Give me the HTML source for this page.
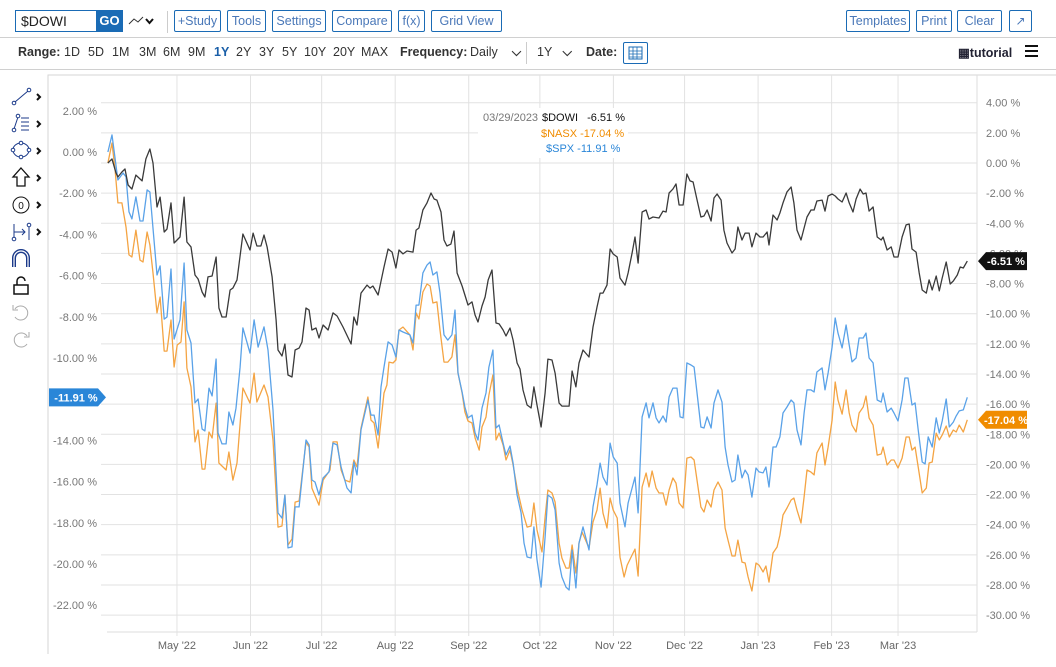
<!DOCTYPE html>
<html><head><meta charset="utf-8">
<style>
*{box-sizing:border-box}
body{margin:0;width:1056px;height:667px;background:#fff;font-family:"Liberation Sans",sans-serif;position:relative;overflow:hidden;color:#222}
.abs{position:absolute}
.btn{position:absolute;top:10px;height:22px;border:1px solid #1a6bb5;border-radius:2px;color:#4a78b8;font-size:12.5px;line-height:20px;text-align:center;background:#fff}
.rng{position:absolute;top:45px;font-size:12.5px;color:#333}
</style></head><body>
<div class="abs" style="left:15px;top:10px;width:82px;height:22px;border:1px solid #1a6bb5;font-size:14px;line-height:20px;padding-left:5px">$DOWI</div>
<div class="abs" style="left:96px;top:10px;width:27px;height:22px;background:#1a6bb5;color:#fff;font-weight:bold;font-size:13px;line-height:22px;text-align:center">GO</div>
<svg class="abs" style="left:128px;top:14px" width="28" height="14"><path d="M1 10 L6 5 L10 8 L15 3" stroke="#333" fill="none" stroke-width="1"/><path d="M18 5 L21.5 9 L25 5" stroke="#111" fill="none" stroke-width="2"/></svg>
<div class="abs" style="left:167px;top:11px;width:1px;height:22px;background:#ccc"></div>
<div class="btn" style="left:174px;width:47px">+Study</div>
<div class="btn" style="left:227px;width:39px">Tools</div>
<div class="btn" style="left:272px;width:54px">Settings</div>
<div class="btn" style="left:332px;width:60px">Compare</div>
<div class="btn" style="left:398px;width:27px">f(x)</div>
<div class="btn" style="left:431px;width:71px">Grid View</div>
<div class="btn" style="left:846px;width:64px">Templates</div>
<div class="btn" style="left:916px;width:36px">Print</div>
<div class="btn" style="left:957px;width:45px">Clear</div>
<div class="btn" style="left:1009px;width:23px;font-size:12px">&#x2197;</div>
<div class="abs" style="left:0;top:37px;width:1056px;height:1px;background:#d0d0d0"></div>
<div class="rng" style="left:18px;font-weight:bold">Range:</div>
<div class="rng" style="left:64px">1D</div>
<div class="rng" style="left:88px">5D</div>
<div class="rng" style="left:112px">1M</div>
<div class="rng" style="left:139px">3M</div>
<div class="rng" style="left:163px">6M</div>
<div class="rng" style="left:188px">9M</div>
<div class="rng" style="left:214px;font-weight:bold;color:#1a5fa8">1Y</div>
<div class="rng" style="left:236px">2Y</div>
<div class="rng" style="left:259px">3Y</div>
<div class="rng" style="left:282px">5Y</div>
<div class="rng" style="left:304px">10Y</div>
<div class="rng" style="left:333px">20Y</div>
<div class="rng" style="left:361px">MAX</div>
<div class="rng" style="left:400px;font-weight:bold">Frequency:</div>
<div class="rng" style="left:470px">Daily &nbsp;&nbsp;&nbsp;<b>&#x2335;</b></div>
<div class="abs" style="left:526px;top:42px;width:1px;height:22px;background:#ccc"></div>
<div class="rng" style="left:537px">1Y &nbsp;&nbsp;<b>&#x2335;</b></div>
<div class="rng" style="left:586px;font-weight:bold">Date:</div>
<div class="abs" style="left:623px;top:42px;width:25px;height:22px;border:1px solid #1a6bb5;border-radius:2px">
<svg width="23" height="20"><rect x="5" y="4" width="13" height="12" fill="none" stroke="#1a6bb5"/><path d="M5 8H18M5 11H18M5 14H18M9 4V16M13 4V16" stroke="#1a6bb5" stroke-width="0.8"/></svg></div>
<div class="rng" style="left:958px;font-weight:bold;color:#223">&#x25A6;tutorial</div>
<div class="abs" style="left:1025px;top:45px;width:13px;height:12px;border-top:2px solid #111;border-bottom:2px solid #111"><div style="margin-top:3px;height:2px;background:#111"></div></div>
<div class="abs" style="left:0;top:69px;width:1056px;height:1px;background:#d0d0d0"></div>

<svg class="abs" style="left:8px;top:85px" width="40" height="270">
<g stroke="#1b3a8a" fill="none"><path d="M7 17 L20 6"/><circle cx="6" cy="18" r="1.8" fill="#fff"/><circle cx="21" cy="5" r="1.8" fill="#fff"/><path d="M29 9l3 3-3 3" stroke="#111" stroke-width="2"/></g>
<g stroke="#1b3a8a" fill="none" transform="translate(0,27)"><path d="M6 17 L10 5 M13 6H21M13 10H21M13 14H21M13 18H21"/><circle cx="6" cy="18" r="1.8" fill="#fff"/><circle cx="10" cy="4" r="1.8" fill="#fff"/><path d="M29 9l3 3-3 3" stroke="#111" stroke-width="2"/></g>
<g stroke="#1b3a8a" fill="none" transform="translate(0,54)"><ellipse cx="13" cy="11" rx="8" ry="7"/><circle cx="13" cy="4" r="1.8" fill="#fff"/><circle cx="5" cy="11" r="1.8" fill="#fff"/><circle cx="21" cy="11" r="1.8" fill="#fff"/><circle cx="13" cy="18" r="1.8" fill="#fff"/><path d="M29 9l3 3-3 3" stroke="#111" stroke-width="2"/></g>
<g stroke="#111" fill="none" transform="translate(0,81)"><path d="M13 2 L21 11 H17 V20 H9 V11 H5 Z" stroke-width="1.3"/><path d="M29 9l3 3-3 3" stroke-width="2"/></g>
<g stroke="#111" fill="none" transform="translate(0,108)"><circle cx="13" cy="12" r="8"/><text x="13" y="16" font-size="10" text-anchor="middle" fill="#111" stroke="none" font-family="Liberation Sans">0</text><path d="M29 9l3 3-3 3" stroke-width="2"/></g>
<g stroke="#1b3a8a" fill="none" transform="translate(0,135)"><path d="M6 4V20M6 12H17M14 9l3 3-3 3M21 5V20"/><circle cx="21" cy="5" r="1.8" fill="#fff"/><circle cx="6" cy="19" r="1.8" fill="#fff"/><path d="M29 9l3 3-3 3" stroke="#111" stroke-width="2"/></g>
<g fill="none" transform="translate(0,162)"><path d="M6 20V11a7 7 0 0 1 14 0V20" stroke="#1b3a8a" stroke-width="4"/><path d="M6 20V11a7 7 0 0 1 14 0V20" stroke="#fff" stroke-width="1.2"/></g>
<g stroke="#111" fill="none" transform="translate(0,189)"><rect x="6" y="11" width="14" height="9" stroke-width="1.5"/><path d="M9 11V7a4 4 0 0 1 8 0" stroke-width="1.5"/></g>
<g stroke="#aaa" fill="none" transform="translate(0,216)"><path d="M7 8a7 7 0 1 1 0 8"/><path d="M5 4V9H10"/></g>
<g stroke="#aaa" fill="none" transform="translate(0,243)"><path d="M19 8a7 7 0 1 0 0 8"/><path d="M21 4V9H16"/></g>
</svg>

<svg id="chart" class="abs" style="left:0;top:0" width="1056" height="667" font-family="Liberation Sans, sans-serif"></svg>

<script>
const monthLabels=["May '22","Jun '22","Jul '22","Aug '22","Sep '22","Oct '22","Nov '22","Dec '22","Jan '23","Feb '23","Mar '23"];
const monthDays=[30,61,91,122,153,183,214,244,275,306,334];
const leftTicks=[2,0,-2,-4,-6,-8,-10,-12,-14,-16,-18,-20,-22];
const rightTicks=[4,2,0,-2,-4,-6,-8,-10,-12,-14,-16,-18,-20,-22,-24,-26,-28,-30];
const seriesNames=["$DOWI","$NASX","$SPX"];
const lastValues=[-6.51,-17.04,-11.91];
const dowi=[[0.9,0],[2.6,0.27],[4.3,-0.66],[5.1,-0.93],[6.8,-0.6],[8.1,-0.4],[9.4,-1.46],[11,-1.73],[12.7,-0.8],[15.3,-1.19],[16.9,0.27],[18.6,0.93],[19.9,0],[21.6,-2.92],[22.9,-2.26],[24.6,-4.58],[25.8,-4.38],[27.5,-2.65],[28.8,-5.31],[31.3,-4.91],[33,-2.26],[34.2,-5.24],[35.9,-5.57],[37.6,-7.43],[38.9,-7.7],[40.6,-8.56],[41.8,-8.89],[43.1,-7.56],[44.8,-7.5],[46.5,-6.24],[47.7,-9.62],[49,-10.22],[50.7,-10.22],[52.4,-8.43],[53.6,-8.3],[55.3,-7.76],[57.8,-4.71],[60.8,-5.77],[62.1,-4.65],[63.7,-5.51],[65.4,-5.51],[66.7,-4.78],[68,-5.57],[70.1,-7.56],[71.8,-10.42],[72.6,-12.41],[74.3,-12.81],[75.5,-12.01],[76.8,-14.07],[78.5,-14.2],[79.8,-12.41],[81.5,-12.28],[82.7,-11.88],[84.4,-9.62],[85.7,-9.76],[86.9,-11.08],[88.6,-10.95],[89.9,-11.61],[91.6,-10.75],[93.7,-11.08],[95.8,-9.95],[97.5,-10.15],[100,-10.88],[103.4,-12.01],[104.6,-10.22],[105.9,-10.75],[107.6,-8.63],[110.1,-8.1],[111.4,-8.3],[112.6,-8.16],[114.8,-8.76],[117.3,-6.9],[119,-5.71],[120.7,-5.91],[122.3,-6.97],[123.6,-5.77],[125.3,-6.03],[127,-5.84],[129.5,-5.91],[130.8,-4.45],[132,-4.31],[133.7,-3.12],[135.4,-2.65],[137.1,-1.99],[138.4,-2.39],[139.6,-2.46],[141.3,-3.25],[142.6,-5.11],[143.8,-5.51],[145.5,-5.38],[146.8,-4.51],[148.1,-7.3],[150.2,-8.16],[151.4,-8.76],[152.7,-9.42],[154.4,-9.22],[155.7,-10.09],[156.9,-10.55],[158.6,-9.49],[159.9,-8.89],[161.2,-7.76],[162.8,-7.1],[164.5,-10.62],[165.8,-10.68],[167.5,-11.08],[168.7,-11.48],[170.4,-10.95],[171.7,-11.75],[173.4,-13.27],[174.6,-13.67],[175.9,-15.06],[177.6,-16.06],[179.3,-16.26],[180.5,-14.86],[181.8,-16.06],[183.5,-17.52],[185.2,-15.26],[186.4,-13.01],[188.1,-13.07],[189.4,-13.94],[191.1,-15.93],[192.3,-16.13],[195.3,-16.13],[196.6,-13.8],[198.2,-14.86],[199.5,-13.27],[201.2,-12.41],[203.7,-12.87],[205.4,-10.88],[207.1,-9.56],[208.4,-8.63],[209.6,-8.63],[211.3,-8.1],[212.6,-5.71],[213.9,-6.04],[215.6,-6.24],[216.8,-7.63],[218.9,-8.1],[220.2,-7.3],[221.9,-5.97],[223.1,-4.91],[224.4,-6.64],[226.1,-3.25],[227.8,-3.12],[229,-3.72],[230.7,-3.58],[233.2,-3.65],[234.9,-3.19],[236.2,-3.25],[237.5,-1.99],[239.1,-1.73],[240.4,-1.39],[241.7,-2.79],[243.4,-2.79],[245,-0.73],[246.3,-1.19],[247.6,-1.26],[249.3,-2.46],[250.9,-3.58],[252.2,-3.52],[253.5,-3.12],[255.2,-3.85],[256.4,-2.32],[257.7,-2.06],[259.4,-2.46],[260.6,-4.45],[261.9,-5.31],[264,-5.97],[265.3,-5.71],[266.5,-4.25],[268.2,-5.11],[269.5,-4.65],[271.2,-4.65],[272.4,-5.57],[274.1,-4.65],[275.8,-4.91],[277.1,-4.91],[278.8,-4.58],[279.6,-5.44],[281.3,-3.45],[283,-3.78],[284.2,-3.32],[285.5,-2.65],[287.2,-1.92],[288.9,-1.59],[290.1,-2.65],[291.4,-4.45],[293.1,-5.11],[294.4,-4.31],[295.6,-3.58],[297.3,-3.12],[298.6,-3.12],[299.8,-2.52],[302,-2.46],[303.2,-3.19],[304.5,-2.19],[306.2,-2.06],[307.5,-2.19],[308.7,-2.39],[310.4,-2.59],[312.1,-1.99],[313.4,-2.65],[315,-3.25],[316.3,-2.39],[318,-1.73],[319.3,-2.06],[320.5,-1.99],[321.8,-3.19],[323.5,-2.92],[325.2,-4.91],[326.9,-5.11],[327.7,-4.91],[329.4,-5.77],[331.1,-5.57],[332.3,-6.24],[334,-6.24],[335.7,-4.91],[337.4,-4.11],[338.7,-4.05],[339.9,-5.71],[341.6,-5.91],[342.9,-7.3],[344.2,-8.43],[345.9,-8.63],[347.1,-7.76],[348.4,-8.43],[350.1,-7.5],[351.4,-8.49],[352.6,-7.63],[354.3,-6.57],[356,-8.03],[357.3,-7.83],[359,-7.43],[360.2,-6.9],[361.5,-6.97],[363.2,-6.51]];
const spx=[[0.9,0],[2.6,0.83],[5.1,-1.36],[7.3,-1.02],[8.5,-1.21],[9.8,-2.91],[11,-3.25],[12.7,-2.18],[14.4,-3.35],[15.7,-3.35],[17.4,-1.84],[18.6,-1.94],[21.6,-5.97],[22.9,-5.53],[24.6,-8.11],[25.8,-8.01],[27.5,-5.68],[28.8,-9.08],[31.3,-8.15],[33,-5.39],[34.2,-8.64],[35.9,-9.27],[37.6,-12.18],[38.9,-11.99],[40.6,-13.45],[41.8,-13.54],[43.5,-11.46],[44.8,-11.84],[46.5,-10.05],[47.3,-13.64],[49,-14.17],[50.7,-14.17],[51.9,-12.62],[53.6,-13.25],[54.9,-12.43],[56.6,-10.44],[57.8,-8.54],[60.8,-9.76],[62.5,-8.15],[64.2,-9.47],[66.7,-8.49],[68.4,-9.61],[70.5,-12.52],[72.6,-17.52],[74.3,-17.77],[75.5,-16.65],[76.8,-19.22],[78.5,-19.17],[79.8,-17.23],[81.5,-17.23],[84.4,-13.98],[85.7,-14.22],[86.9,-15.92],[88.2,-16.02],[89.9,-16.65],[91.6,-15.82],[94.1,-15.53],[95.8,-14.13],[97.5,-14.22],[99.2,-15.29],[101.7,-16.31],[103.4,-16.55],[104.6,-15.05],[105.9,-15.68],[107.6,-13.49],[110.5,-12.04],[111.8,-12.77],[113.1,-12.77],[114.8,-13.74],[116,-11.41],[117.3,-10.44],[119,-9.22],[120.7,-9.37],[122.3,-9.95],[123.6,-8.64],[125.3,-8.74],[128.2,-8.88],[129.5,-9.27],[130.8,-7.43],[132,-7.43],[133.7,-5.87],[135.4,-5.49],[136.7,-5.34],[137.9,-5.97],[139.6,-5.82],[140.9,-6.84],[142.6,-8.88],[144.2,-9.13],[145.9,-8.88],[147.2,-7.67],[148.5,-10.73],[150.2,-11.65],[151.4,-12.38],[152.7,-12.91],[154.4,-12.77],[155.7,-13.64],[156.9,-13.98],[158.6,-12.43],[160.3,-11.7],[161.5,-10.44],[163.2,-9.61],[164.5,-13.4],[165.8,-13.25],[167.5,-14.13],[168.7,-14.71],[170.4,-14.27],[171.7,-15.1],[173.4,-16.65],[175.1,-17.52],[176.3,-18.98],[177.6,-19.66],[179.3,-19.71],[180.5,-18.2],[181.8,-19.8],[183.5,-21.12],[185.2,-18.69],[186.4,-16.65],[188.1,-16.8],[189.4,-17.38],[191.1,-19.95],[192.3,-20.63],[194,-21.12],[195.3,-21.26],[196.6,-19.32],[198.2,-21.16],[199.5,-18.98],[201.2,-18.2],[203.7,-19.32],[205.4,-17.23],[207.1,-16.16],[208.4,-15.1],[209.6,-15.78],[211.3,-16.16],[212.6,-14.13],[213.9,-14.8],[215.6,-15.1],[216.8,-17.04],[218.9,-18.2],[220.2,-17.04],[221.9,-16.31],[223.1,-15.78],[224.4,-17.52],[226.1,-12.86],[227.8,-12.18],[229,-12.91],[230.7,-12.18],[232,-12.91],[233.2,-13.15],[234.9,-12.81],[236.2,-13.11],[237.5,-11.89],[239.1,-11.46],[240.8,-11.46],[242.1,-12.86],[243.4,-12.91],[245,-10.24],[246.7,-10.34],[248,-10.44],[250.9,-13.35],[252.2,-13.4],[253.5,-12.86],[255.2,-13.4],[256.4,-12.18],[258.1,-11.55],[259.8,-12.14],[261.1,-14.32],[262.3,-15.19],[264,-16.02],[265.3,-15.92],[266.5,-14.71],[268.2,-15.82],[269.5,-15.44],[270.8,-15.68],[272.4,-16.75],[274.1,-15.34],[275.4,-15.53],[277.1,-15.58],[278.3,-15.29],[279.6,-16.26],[281.3,-14.32],[282.6,-14.32],[284.2,-13.83],[285.5,-12.67],[287.2,-12.38],[288.9,-12.04],[290.1,-12.18],[291.4,-13.49],[293.1,-14.22],[294.4,-12.67],[295.6,-11.55],[297.3,-11.55],[298.6,-11.65],[299.8,-10.68],[302,-10.48],[303.2,-11.55],[304.5,-10.73],[306.2,-9.47],[307.5,-8.06],[308.7,-8.79],[310.4,-9.51],[312.1,-8.4],[313.4,-9.37],[314.6,-10.19],[316.3,-10],[317.6,-9.03],[319.3,-9.03],[320.5,-8.79],[321.8,-10],[323.5,-10.24],[325.2,-12.04],[326.9,-12.14],[327.7,-11.7],[329.4,-12.62],[331.1,-12.43],[332.3,-12.67],[334,-13.06],[335.7,-12.04],[336.9,-10.97],[338.2,-10.97],[339.9,-12.28],[341.2,-12.18],[342.5,-13.49],[344.2,-15.05],[345.4,-15.14],[346.7,-13.83],[348.4,-14.32],[350.1,-12.91],[351.4,-13.64],[352.6,-13.06],[354.3,-11.99],[355.6,-13.35],[357.3,-13.11],[358.5,-12.81],[359.8,-12.57],[361.5,-12.52],[363.2,-11.91]];
const nasx=[[0.9,0],[2.6,1.33],[3.9,-0.46],[5.1,-2.65],[6.8,-2.65],[8.5,-4.25],[9.8,-6.1],[11,-6.24],[12.7,-4.45],[14.4,-6.44],[15.7,-6.57],[17.4,-4.58],[18.6,-5.44],[19.9,-7.3],[21.6,-9.95],[22.9,-8.89],[24.6,-12.48],[25.8,-12.48],[27.5,-10.42],[28.8,-13.54],[30.1,-12.08],[31.7,-11.88],[33,-9.22],[34.2,-13.6],[35.9,-14.86],[37.6,-18.51],[38.9,-17.72],[40.6,-20.31],[41.8,-20.31],[43.5,-17.85],[44.8,-18.25],[46.5,-15.93],[47.7,-19.91],[50.7,-20.37],[51.9,-19.18],[53.6,-21.04],[55.3,-19.91],[57.8,-14.93],[60.8,-15.93],[62.5,-13.94],[63.7,-15.86],[66.7,-14.73],[68.4,-15.53],[70.5,-18.38],[72.6,-24.16],[74.3,-24.09],[75.5,-22.03],[76.8,-25.35],[78.5,-24.95],[79.8,-22.5],[81.5,-22.43],[84.4,-18.51],[85.7,-18.85],[86.9,-21.57],[89.9,-22.7],[91.6,-21.04],[94.5,-20.37],[95.8,-18.51],[97.5,-18.51],[99.2,-20.37],[100.8,-21.04],[102.9,-21.17],[104.6,-19.71],[105.9,-20.17],[107.6,-17.59],[110.5,-15.53],[111.8,-17.06],[113.1,-17.25],[114.8,-18.91],[117.3,-15.26],[118.5,-14.73],[119.4,-13.21],[121.1,-13.27],[122.3,-13.07],[123.6,-11.08],[125.3,-10.88],[128.2,-11.41],[129.5,-12.41],[130.8,-9.95],[132,-10.35],[133.7,-8.56],[135.4,-8.03],[136.7,-8.16],[137.9,-9.29],[139.6,-9.22],[140.9,-11.08],[142.6,-13.21],[144.2,-13.21],[145.9,-12.87],[147.2,-11.41],[148.5,-13.94],[150.2,-15.26],[151.4,-16.52],[152.7,-17.12],[154.4,-17.25],[155.7,-18.25],[157.4,-19.05],[158.6,-17.52],[160.3,-16.86],[161.5,-15.4],[163.2,-14.07],[164.5,-18.38],[165.8,-17.92],[167.5,-18.71],[168.7,-19.71],[170.4,-19.05],[171.7,-20.04],[173.4,-21.57],[175.5,-23.03],[177.6,-24.16],[179.3,-24.09],[180.5,-22.56],[181.8,-24.35],[183.9,-25.81],[185.2,-23.49],[186.4,-21.7],[188.1,-21.9],[189.4,-22.5],[191.1,-25.22],[192.3,-26.21],[194,-26.88],[195.3,-26.88],[196.6,-25.35],[198.2,-27.21],[199.5,-25.22],[200.8,-24.49],[203.7,-25.55],[205.4,-23.82],[207.1,-23.03],[208.4,-21.57],[209.6,-23.23],[211.3,-24.22],[212.6,-22.23],[213.9,-23.03],[215.6,-23.56],[216.8,-26.15],[218.5,-27.47],[219.8,-26.68],[221.9,-26.01],[223.1,-25.62],[224.4,-27.41],[226.1,-21.5],[227.8,-20.57],[229,-21.5],[230.3,-20.44],[232,-21.57],[233.2,-21.9],[234.9,-21.9],[236.2,-22.7],[237.5,-21.7],[239.1,-20.9],[240.4,-21.24],[241.7,-22.56],[243.4,-22.89],[245,-19.58],[246.7,-19.51],[248,-19.71],[250.9,-22.83],[252.2,-23.16],[253.5,-22.36],[255.2,-22.83],[256.4,-21.7],[258.1,-21.17],[259.8,-21.7],[261.1,-24.22],[262.3,-25.02],[264,-26.08],[265.3,-26.08],[266.5,-25.02],[268.2,-26.48],[269.5,-26.54],[270.8,-27.47],[272.4,-28.4],[274.1,-26.54],[275.4,-26.68],[277.1,-27.14],[278.3,-26.74],[279.6,-27.81],[281.3,-25.88],[283,-25.48],[284.2,-24.69],[285.5,-23.36],[287.2,-22.89],[288.9,-22.36],[290.1,-22.23],[291.4,-23.03],[293.1,-23.89],[294.4,-22.16],[295.6,-20.37],[297.3,-20.51],[298.6,-20.7],[299.8,-19.24],[302,-18.58],[303.2,-20.04],[304.5,-18.85],[306.2,-17.06],[307.5,-14.53],[308.7,-15.73],[310.4,-16.66],[312.1,-15.06],[313.4,-16.59],[314.6,-17.39],[316.3,-17.85],[317.6,-16.59],[319.3,-16.19],[320.5,-15.46],[321.8,-16.92],[323.5,-17.39],[325.2,-19.38],[326.9,-19.31],[327.7,-18.85],[329.4,-20.04],[331.1,-19.71],[332.3,-19.71],[334,-20.24],[335.7,-19.58],[337.4,-18.18],[338.7,-18.18],[339.9,-19.05],[341.2,-18.85],[342.5,-20.17],[344.2,-21.9],[345.9,-21.57],[347.1,-19.91],[348.4,-19.84],[350.1,-17.92],[351.4,-18.38],[352.6,-18.05],[354.3,-17.45],[355.6,-18.18],[357.3,-17.72],[358.5,-17.85],[359.8,-17.39],[361.5,-17.85],[363.2,-17.04]];

const NS="http://www.w3.org/2000/svg";
const svg=document.getElementById('chart');
const X0=105.8, PXD=2.372;
const PL=107, PR=977, PT=75, PB=632;
function xs(d){return X0+d*PXD;}
function yR(v){return 163-v*15.07;}
function yL(v){return 152-v*20.6;}
function mk(tag,attrs,parent){const e=document.createElementNS(NS,tag);for(const k in attrs)e.setAttribute(k,attrs[k]);(parent||svg).appendChild(e);return e;}
function fmt(v){return v.toFixed(2)+' %';}

const frame=mk('path',{d:`M48 654 V${PT} H1056`,stroke:'#d6d6d6',fill:'none'});


const rline=mk('line',{x1:PR,y1:PT,x2:PR,y2:PB,stroke:'#ddd'});


const bline=mk('line',{x1:PL,y1:PB,x2:PR,y2:PB,stroke:'#ddd'});



rightTicks.forEach(t=>{
  const y=yR(t);
  const g=mk('line',{x1:PL-6,y1:y,x2:PR,y2:y,stroke:'#e2e2e2'});
  
  
  const tx=mk('text',{x:PR+9,y:y+4,'font-size':11,fill:'#777'});
  tx.textContent=fmt(t);
  
  
});
leftTicks.forEach(t=>{
  const tx=mk('text',{x:97,y:yL(t)+4,'font-size':11,fill:'#777','text-anchor':'end'});
  tx.textContent=fmt(t);
  
  
});
monthDays.forEach((d,i)=>{
  const x=xs(d);
  const g=mk('line',{x1:x,y1:PT,x2:x,y2:PB+4,stroke:'#e2e2e2'});
  
  
  const tx=mk('text',{x:x,y:649,'font-size':11,fill:'#666','text-anchor':'middle'});
  tx.textContent=monthLabels[i];
  
  
});

const tipbg=mk('rect',{x:478,y:108,width:150,height:50,fill:'#fff'});



function drawLine(data,yf,color,name){
  const d=data.map((p,i)=>(i?'L':'M')+xs(p[0]).toFixed(1)+' '+yf(p[1]).toFixed(1)).join(' ');
  const p=mk('path',{d:d,stroke:color,fill:'none','stroke-width':1.3,'stroke-linejoin':'round'});
  
  
}
drawLine(nasx,yR,'#f4a443','nasx-line');
drawLine(spx,yL,'#5aa2e8','spx-line');
drawLine(dowi,yR,'#3a3a3a','dowi-line');

function txt(x,y,s,color,name,anchor){const t=mk('text',{x:x,y:y,'font-size':11,fill:color,'text-anchor':anchor||'start'});t.textContent=s;return t;}
txt(483,121,'03/29/2023','#777','tooltip-date');
txt(542,121,seriesNames[0],'#111','tooltip-dowi-name');
txt(625,121,fmt(lastValues[0]),'#111','tooltip-dowi-value','end');
txt(541,137,seriesNames[1]+' '+fmt(lastValues[1]),'#f08c00','tooltip-nasx');
txt(546,152,seriesNames[2]+' '+fmt(lastValues[2]),'#2a86d8','tooltip-spx');

function flag(y,val,color,side,name){
  let pts,tx;
  if(side==='right'){pts=`${PR+1},${y} ${PR+9},${y-9} ${PR+50},${y-9} ${PR+50},${y+9} ${PR+9},${y+9}`;tx=PR+29;}
  else {pts=`49,${y-9} 98,${y-9} 106,${y} 98,${y+9} 49,${y+9}`;tx=76;}
  const g=mk('g',{});
  
  
  mk('polygon',{points:pts,fill:color},g);
  const t=mk('text',{x:tx,y:y+4,'font-size':11,'font-weight':'bold',fill:'#fff','text-anchor':'middle'},g);
  t.textContent=fmt(val);
}
flag(yR(lastValues[0]),lastValues[0],'#111','right','dowi-value-flag');
flag(yR(lastValues[1]),lastValues[1],'#f08c00','right','nasx-value-flag');
flag(yL(lastValues[2]),lastValues[2],'#2a86d8','left','spx-value-flag');
</script>
</body></html>
